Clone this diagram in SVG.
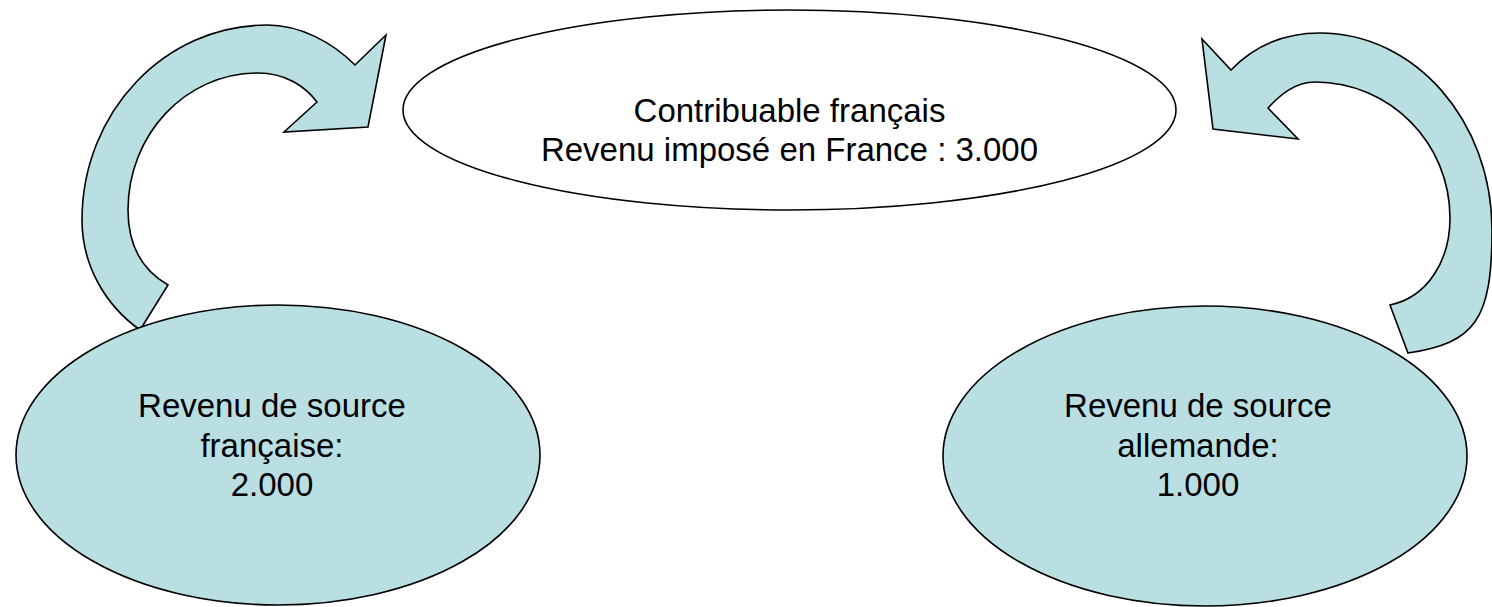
<svg xmlns="http://www.w3.org/2000/svg" width="1492" height="607" viewBox="0 0 1492 607">
<style>
.shape{stroke:#000;stroke-width:1.6;stroke-linejoin:miter}
.blue{fill:#badfe3}
.white{fill:#fff}
.lbl{font-family:"Liberation Sans",Arial,sans-serif;font-size:33px;fill:#000;text-anchor:middle}
</style>
<rect width="1492" height="607" fill="#fff"/>
<g id="connectors">
<path id="arrow-left" class="shape blue" d="M140,330 C105,305 82,265 82,220 C82,112 165,25 267,25 C300,25 332,42 355,65 L386,35 L368,127 L284,132 L317,102 C305,86 285,73 258,73 C185,73 128,135 128,210 C128,245 142,270 168,285 Z"/>
<path id="arrow-right" class="shape blue" d="M1202,39 L1231,70 C1255,45 1285,33 1320,33 C1415,33 1492,121 1492,230 C1492,320 1475,343 1408,353 L1390,305 C1428,297 1450,260 1450,218 C1450,143 1390,82 1315,82 C1295,82 1280,95 1268,108 L1298,139 L1213,129 Z"/>
</g>
<g id="node-top">
<ellipse class="shape white" cx="789.5" cy="110" rx="386.5" ry="100"/>
<text class="lbl" x="789.5" y="122">Contribuable français</text>
<text class="lbl" x="789.5" y="161">Revenu imposé en France : 3.000</text>
</g>
<g id="node-left">
<ellipse class="shape blue" cx="278" cy="455" rx="262" ry="150"/>
<text class="lbl" x="272" y="417">Revenu de source</text>
<text class="lbl" x="272" y="457">française:</text>
<text class="lbl" x="272" y="496">2.000</text>
</g>
<g id="node-right">
<ellipse class="shape blue" cx="1205" cy="456" rx="262" ry="150"/>
<text class="lbl" x="1198" y="417">Revenu de source</text>
<text class="lbl" x="1198" y="457">allemande:</text>
<text class="lbl" x="1198" y="496">1.000</text>
</g>
</svg>
